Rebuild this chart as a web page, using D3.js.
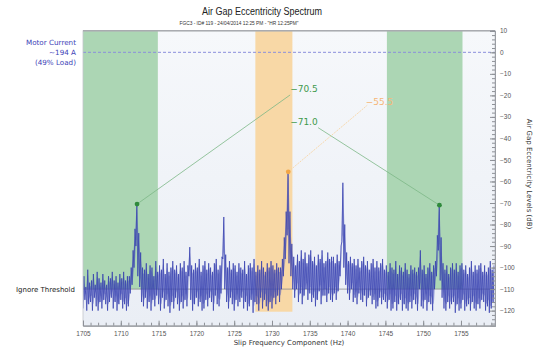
<!DOCTYPE html>
<html>
<head>
<meta charset="utf-8">
<script src="https://cdn.jsdelivr.net/npm/d3@7"></script>
<style>
  body { margin: 0; background: #fff; }
  svg { display: block; font-family: "DejaVu Sans", Verdana, sans-serif; }
</style>
</head>
<body>
<div id="chart"></div>
<script>
// spectrum trace, one high / low pair per 0.25 Hz bin starting at 1705 Hz (dB)
const freqStart = 1705;
const binWidth = 0.25;
const traceHigh = [
  -104, -109, -101, -107,  -106, -103, -108, -102,  -105, -107, -103, -106,  -108, -104, -105, -102,
  -106, -104, -107, -103,  -105, -102, -106, -104,  -104, -100, -92, -82,    -70.5, -84, -93, -100,
  -101, -98, -103, -99,    -100, -104, -97, -102,   -99, -101, -96, -103,    -98, -102, -100, -97,
  -101, -99, -103, -98,    -100, -97, -102, -99,    -90.5, -99, -101, -98,   -100, -96, -102, -99,
  -97, -101, -98, -100,    -102, -98, -96, -101,    -99, -95, -76.5, -94,    -100, -97, -101, -98,
  -99, -102, -98, -100,    -101, -97, -103, -99,    -98, -100, -96, -102,    -99, -101, -97, -100,
  -102, -98, -100, -97,    -99, -101, -98, -100,    -100, -96, -86, -74,     -55.5, -74, -89, -95,
  -99, -94, -97, -92,      -96, -93, -98, -94,      -92, -97, -95, -99,      -94, -96, -92, -98,
  -97, -93, -96, -95,      -95, -98, -94, -97,      -90, -60.6, -80, -93,    -97, -95, -98, -96,
  -99, -96, -100, -97,     -95, -99, -97, -101,     -98, -96, -100, -97,     -100, -98, -96, -101,
  -99, -102, -98, -100,    -101, -97, -103, -99,    -100, -102, -98, -101,   -103, -99, -101, -100,
  -102, -100, -92, -101,   -99, -103, -100, -98,    -102, -99, -97, -85,     -71, -86, -98, -101,
  -99, -103, -100, -98,    -101, -98, -102, -99,    -98, -101, -99, -103,    -100, -97, -102, -99,
  -101, -99, -98, -102,    -99, -102, -100, -97,    -101, -99
];
const traceLow = [
  -119, -115, -120, -117,  -116, -120, -114, -118,  -120, -116, -119, -115,  -117, -120, -116, -114,
  -119, -116, -120, -117,  -115, -119, -117, -120,  -118, -112, -108, -100,  -90, -104, -109, -116,
  -118, -114, -119, -116,  -120, -115, -118, -113,  -117, -120, -114, -119,  -115, -118, -121, -116,
  -119, -114, -117, -120,  -116, -119, -115, -118,  -104, -115, -120, -117,  -114, -118, -116, -120,
  -119, -115, -118, -114,  -116, -120, -113, -117,  -118, -112, -96, -110,   -116, -119, -114, -117,
  -120, -115, -118, -116,  -114, -119, -116, -120,  -118, -115, -121, -116,  -117, -120, -114, -119,
  -115, -118, -120, -116,  -119, -114, -117, -113,  -116, -110, -104, -96,   -85, -98, -104, -110,
  -114, -110, -116, -112,  -117, -113, -110, -115,  -112, -116, -114, -118,  -115, -111, -117, -113,
  -113, -116, -112, -115,  -116, -112, -115, -111,  -104, -88, -100, -108,  -112, -115, -110, -116,
  -114, -117, -112, -115,  -116, -113, -118, -114,  -113, -117, -115, -119,  -118, -114, -117, -115,
  -116, -119, -115, -120,  -119, -116, -120, -117,  -115, -120, -117, -119,  -120, -116, -119, -115,
  -117, -120, -110, -118,  -119, -115, -120, -116,  -117, -120, -110, -104,  -92, -106, -114, -119,
  -120, -116, -119, -117,  -116, -121, -117, -120,  -119, -115, -120, -118,  -117, -120, -116, -119,
  -120, -117, -119, -115,  -116, -120, -118, -121,  -119, -116
];

// detected peaks and their callouts
const peakFreq = [1712.15, 1752.15, 1732.15];
const peakLevel = [-70.5, -71.0, -55.5];
const peakColor = ['#2f8a3c', '#2f8a3c', '#f2a646'];
const labelFreq = [1732.4, 1732.4, 1742.4];
const labelLevel = [-17.2, -32.4, -23.0];
const lineEndFreq = [1732.4, 1736.1, 1742.6];
const lineEndLevel = [-19.8, -35.0, -24.6];

// shaded frequency bands
const bandStart = [1704, 1745.2, 1727.8];
const bandEnd = [1714.9, 1755.2, 1732.7];
const bandBottom = [-110, -110, -120.5];
const bandFill = ['#acd6b4', '#acd6b4', '#f8d8a6'];

const xTicks = [1705, 1710, 1715, 1720, 1725, 1730, 1735, 1740, 1745, 1750, 1755];
const yTicks = [10, 0, -10, -20, -30, -40, -50, -60, -70, -80, -90, -100, -110, -120];
const motorCurrentLevel = 0;
const ignoreThreshold = -110;
const motorLines = ['Motor Current', '~194 A', '(49% Load)'];

const width = 546, height = 352;
const plot = { left: 83, right: 495, top: 30.8, bottom: 325.7 };

const svg = d3.select('#chart').append('svg')
  .attr('width', width).attr('height', height);

const x = d3.scaleLinear().domain([1705, 1759.5]).range([plot.left, plot.right]);
const y = d3.scaleLinear().domain([10, -127]).range([plot.top, plot.bottom]);

const defs = svg.append('defs');
const grad = defs.append('linearGradient').attr('id', 'bg')
  .attr('x1', 0).attr('y1', 0).attr('x2', 0).attr('y2', 1);
grad.append('stop').attr('offset', '0%').attr('stop-color', '#f6f8fb');
grad.append('stop').attr('offset', '100%').attr('stop-color', '#eaeef5');
defs.append('clipPath').attr('id', 'clip').append('rect')
  .attr('x', plot.left).attr('y', plot.top)
  .attr('width', plot.right - plot.left).attr('height', plot.bottom - plot.top);

svg.append('rect')
  .attr('x', plot.left).attr('y', plot.top)
  .attr('width', plot.right - plot.left).attr('height', plot.bottom - plot.top)
  .attr('fill', 'url(#bg)');

const g = svg.append('g').attr('clip-path', 'url(#clip)');

// bands
g.selectAll('rect.band').data(bandStart).enter().append('rect')
  .attr('class', 'band')
  .attr('x', (d, i) => x(d))
  .attr('y', y(10))
  .attr('width', (d, i) => x(bandEnd[i]) - x(d))
  .attr('height', (d, i) => y(bandBottom[i]) - y(10))
  .attr('fill', (d, i) => bandFill[i]);

// reference lines
g.append('line')
  .attr('x1', plot.left).attr('x2', plot.right)
  .attr('y1', y(motorCurrentLevel)).attr('y2', y(motorCurrentLevel))
  .attr('stroke', '#8b8fdc').attr('stroke-width', 1).attr('stroke-dasharray', '3,2');
g.append('line')
  .attr('x1', plot.left).attr('x2', plot.right)
  .attr('y1', y(ignoreThreshold)).attr('y2', y(ignoreThreshold))
  .attr('stroke', '#8c8c8c').attr('stroke-width', 0.8);

// spectrum trace as a zigzag through each bin's low and high
const tracePts = [];
traceHigh.forEach((hi, i) => {
  const f = freqStart + i * binWidth;
  tracePts.push([f, traceLow[i]]);
  tracePts.push([f + binWidth / 2, hi]);
});
const bins = traceHigh.map((hi, i) => ({ f: freqStart + i * binWidth, hi, lo: traceLow[i] }));
const area = d3.area()
  .x(d => x(d.f + binWidth / 2))
  .y0(d => y(d.lo + 3))
  .y1(d => y(d.hi - 2))
  .curve(d3.curveMonotoneX);
g.append('path').datum(bins)
  .attr('d', area)
  .attr('fill', '#5560c4')
  .attr('opacity', 0.42);
const line = d3.line().x(d => x(d[0])).y(d => y(d[1]));
g.append('path').datum(tracePts)
  .attr('d', line)
  .attr('fill', 'none')
  .attr('stroke', '#343eae')
  .attr('stroke-width', 0.8)
  .attr('stroke-linejoin', 'round')
  .attr('opacity', 0.9);

// callout lines
g.selectAll('line.call').data(peakFreq).enter().append('line')
  .attr('class', 'call')
  .attr('x1', d => x(d)).attr('y1', (d, i) => y(peakLevel[i]))
  .attr('x2', (d, i) => x(lineEndFreq[i])).attr('y2', (d, i) => y(lineEndLevel[i]))
  .attr('stroke', (d, i) => i === 2 ? '#f7d19a' : '#7cb886')
  .attr('stroke-width', 0.8)
  .attr('stroke-dasharray', (d, i) => i === 2 ? '2,1' : null);

g.selectAll('circle.peak').data(peakFreq).enter().append('circle')
  .attr('class', 'peak')
  .attr('cx', d => x(d)).attr('cy', (d, i) => y(peakLevel[i]))
  .attr('r', 2.4)
  .attr('fill', (d, i) => peakColor[i]);

svg.selectAll('text.call').data(peakLevel).enter().append('text')
  .attr('class', 'call')
  .attr('x', (d, i) => x(labelFreq[i])).attr('y', (d, i) => y(labelLevel[i]))
  .attr('dy', '0.35em')
  .attr('font-size', 9)
  .attr('fill', (d, i) => i === 2 ? '#f6b677' : '#3f9a4c')
  .text(d => d3.format('.1f')(d));

// frame
svg.append('rect')
  .attr('x', plot.left).attr('y', plot.top)
  .attr('width', plot.right - plot.left).attr('height', plot.bottom - plot.top)
  .attr('fill', 'none').attr('stroke', '#c3c6cc').attr('stroke-width', 0.8);
svg.append('line')
  .attr('x1', plot.left).attr('x2', plot.right)
  .attr('y1', plot.top).attr('y2', plot.top)
  .attr('stroke', '#a9abb0').attr('stroke-width', 1.6);

// x axis
const xAxisG = svg.append('g').attr('transform', `translate(0,${plot.bottom})`);
xAxisG.call(d3.axisBottom(x).tickValues(d3.range(1705, 1760, 1)).tickSize(-3).tickFormat(''));
xAxisG.append('g').call(d3.axisBottom(x).tickValues(xTicks).tickSize(-5).tickFormat(d3.format('d')));
xAxisG.selectAll('.domain').attr('stroke', '#9a9da3');
xAxisG.selectAll('line').attr('stroke', '#8d9096');
xAxisG.selectAll('text').attr('font-size', 6.5).attr('fill', '#555').attr('dy', '1.2em');

// y axis on the right, ticks inside
const yAxisG = svg.append('g').attr('transform', `translate(${plot.right},0)`);
yAxisG.call(d3.axisRight(y).tickValues(d3.range(10, -128, -2)).tickSize(-3).tickFormat(''));
yAxisG.append('g').call(d3.axisRight(y).tickValues(yTicks).tickSize(-5).tickFormat(d3.format('d')));
yAxisG.selectAll('.domain').attr('stroke', '#9a9da3');
yAxisG.selectAll('line').attr('stroke', '#8d9096');
yAxisG.selectAll('text').attr('font-size', 6.5).attr('fill', '#555').attr('x', 5);

// titles
svg.append('text').attr('x', 262).attr('y', 15).attr('text-anchor', 'middle')
  .attr('font-family', '"Liberation Sans", Arial, sans-serif')
  .attr('font-size', 10).attr('fill', '#222')
  .attr('textLength', 120).attr('lengthAdjust', 'spacingAndGlyphs')
  .text('Air Gap Eccentricity Spectrum');
svg.append('text').attr('x', 239).attr('y', 25).attr('text-anchor', 'middle')
  .attr('font-family', '"Liberation Sans", Arial, sans-serif')
  .attr('font-size', 5.5).attr('fill', '#333')
  .attr('textLength', 119).attr('lengthAdjust', 'spacingAndGlyphs')
  .text('FGC3 - ID# 119 - 24/04/2014  12:25 PM - "HR  12:25PM"');
svg.append('text').attr('x', 289).attr('y', 345).attr('text-anchor', 'middle')
  .attr('font-size', 7).attr('fill', '#333').text('Slip Frequency Component (Hz)');
svg.append('text')
  .attr('transform', `translate(527,174) rotate(90)`)
  .attr('text-anchor', 'middle').attr('font-size', 7).attr('fill', '#333')
  .text('Air Gap Eccentricity Levels (dB)');

// left annotations
svg.selectAll('text.motor').data(motorLines).enter().append('text')
  .attr('class', 'motor')
  .attr('x', 76).attr('y', (d, i) => y(motorCurrentLevel) - 10 + i * 10)
  .attr('dy', '0.35em').attr('text-anchor', 'end')
  .attr('font-size', 7.2).attr('fill', '#3e44b8')
  .text(d => d);
svg.append('text')
  .attr('x', 75).attr('y', y(ignoreThreshold)).attr('dy', '0.35em')
  .attr('text-anchor', 'end').attr('font-size', 7).attr('fill', '#222')
  .text('Ignore Threshold');
</script>
</body>
</html>
